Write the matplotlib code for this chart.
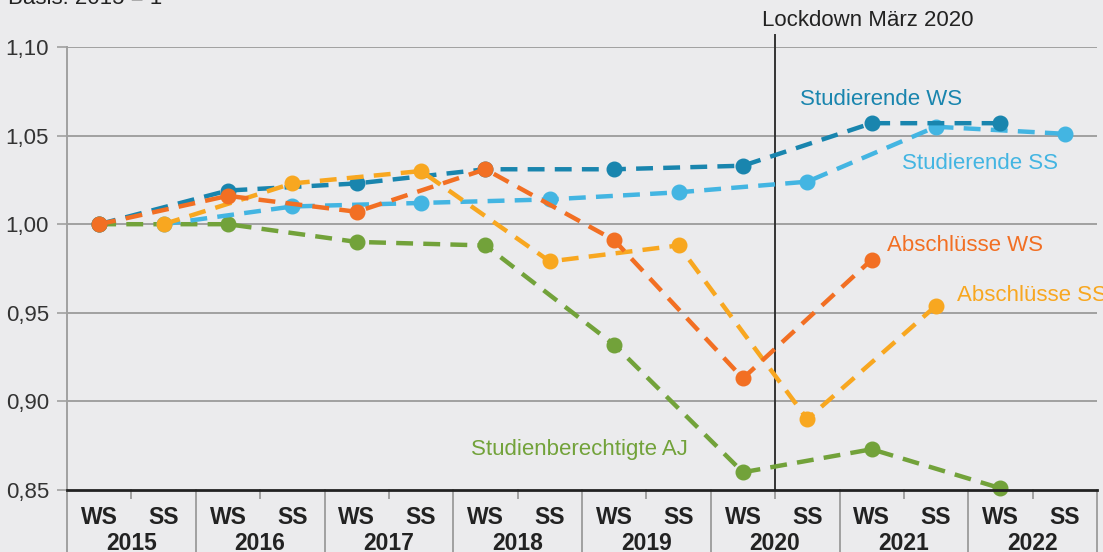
import matplotlib
matplotlib.use("Agg")
import matplotlib.pyplot as plt
from matplotlib.transforms import blended_transform_factory

plt.rcParams['font.family'] = ['Liberation Sans', 'DejaVu Sans']

# ---- data ----
years = [2015, 2016, 2017, 2018, 2019, 2020, 2021, 2022]
semesters = ["WS", "SS"]
ws_idx = [0, 2, 4, 6, 8, 10, 12, 14]
ss_idx = [1, 3, 5, 7, 9, 11, 13, 15]

stud_ws = [1.000, 1.019, 1.023, 1.031, 1.031, 1.033, 1.057, 1.057]
stud_ss = [1.000, 1.010, 1.012, 1.014, 1.018, 1.024, 1.055, 1.051]
abs_ws = [1.000, 1.016, 1.007, 1.031, 0.991, 0.913, 0.980]
abs_ss = [1.000, 1.023, 1.030, 0.979, 0.988, 0.890, 0.954]
berecht = [1.000, 1.000, 0.990, 0.988, 0.932, 0.860, 0.873, 0.851]

yticks = [0.85, 0.90, 0.95, 1.00, 1.05, 1.10]
ytick_labels = ["0,85", "0,90", "0,95", "1,00", "1,05", "1,10"]

c_stud_ws = "#1985ae"
c_stud_ss = "#43b5e2"
c_abs_ws = "#f26f23"
c_abs_ss = "#f8a720"
c_ber = "#72a23a"
bg = "#ebebed"

FS = 16
W, H = 1103, 552
fig = plt.figure(figsize=(W / 100, H / 100), dpi=100, facecolor=bg)
L, R, T, B = 67, 1097, 47, 490
ax = fig.add_axes([L / W, 1 - B / H, (R - L) / W, (B - T) / H], facecolor=bg)
ax.set_xlim(-0.5, 15.5)
ax.set_ylim(0.85, 1.10)
for s in ax.spines.values():
    s.set_visible(False)
ax.set_xticks([])
ax.set_yticks(yticks)
ax.set_yticklabels(ytick_labels, fontsize=FS, color="#333333")
ax.tick_params(axis='y', length=7, width=1.2, color="#a0a0a0", pad=6)

# gridlines
for y in yticks[1:]:
    ax.axhline(y, color="#a0a0a0", lw=1.4, zorder=1)
ax.axhline(0.85, color="#222222", lw=2.0, zorder=6, clip_on=False)

trans = blended_transform_factory(ax.transData, ax.transAxes)
ext = -(H - B) / (B - T)
# left spine extended
ax.plot([-0.5, -0.5], [1.0, ext], transform=trans, color="#a0a0a0", lw=1.4, clip_on=False, zorder=1)
# year separators and semester ticks
for k in range(1, len(years) + 1):
    ax.plot([2 * k - 0.5] * 2, [0, ext], transform=trans, color="#a0a0a0", lw=1.4, clip_on=False)
for k in range(len(years)):
    ax.plot([2 * k + 0.5] * 2, [0, -8 / (B - T)], transform=trans, color="#a0a0a0", lw=1.4, clip_on=False)
    for j, sem in enumerate(semesters):
        ax.text(2 * k + j, -27 / (B - T), sem, transform=trans, ha="center", va="center",
                fontsize=16.5, fontweight="bold", color="#222222")
    ax.text(2 * k + 0.5, -54 / (B - T), str(years[k]), transform=trans, ha="center", va="center",
            fontsize=16.5, fontweight="bold", color="#222222")

# lockdown line
ax.plot([10.5, 10.5], [0, 1.0 + 12 / (B - T)], transform=trans, color="#333333", lw=1.4,
        clip_on=False, zorder=2)
ax.text(10.5 - 0.2, 1.0 + 27 / (B - T), "Lockdown März 2020", transform=trans, ha="left",
        va="center", fontsize=FS, color="#222222")

kw = dict(lw=3.2, dashes=(3.8, 2.3), marker="o", markersize=10.5, clip_on=False)
ax.plot(ws_idx, berecht, color=c_ber, zorder=3, **kw)
ax.plot(ss_idx, stud_ss, color=c_stud_ss, zorder=4, **kw)
ax.plot(ws_idx, stud_ws, color=c_stud_ws, zorder=5, **kw)
ax.plot(ss_idx[:len(abs_ss)], abs_ss, color=c_abs_ss, zorder=6, **kw)
ax.plot(ws_idx[:len(abs_ws)], abs_ws, color=c_abs_ws, zorder=7, **kw)

# series labels
lab = dict(fontsize=FS, va="center", ha="left")
ax.text(10.89, 1.0701, "Studierende WS", color=c_stud_ws, **lab)
ax.text(12.47, 1.0345, "Studierende SS", color=c_stud_ss, **lab)
ax.text(12.24, 0.9877, "Abschlüsse WS", color=c_abs_ws, **lab)
ax.text(13.33, 0.960, "Abschlüsse SS", color=c_abs_ss, clip_on=False, **lab)
ax.text(5.78, 0.8726, "Studienberechtigte AJ", color=c_ber, **lab)

fig.text(8 / W, 1 - 4 / H, "Basis: 2015 = 1", ha="left", va="baseline", fontsize=FS, color="#222222")

fig.savefig("out.png", dpi=100, facecolor=bg)
